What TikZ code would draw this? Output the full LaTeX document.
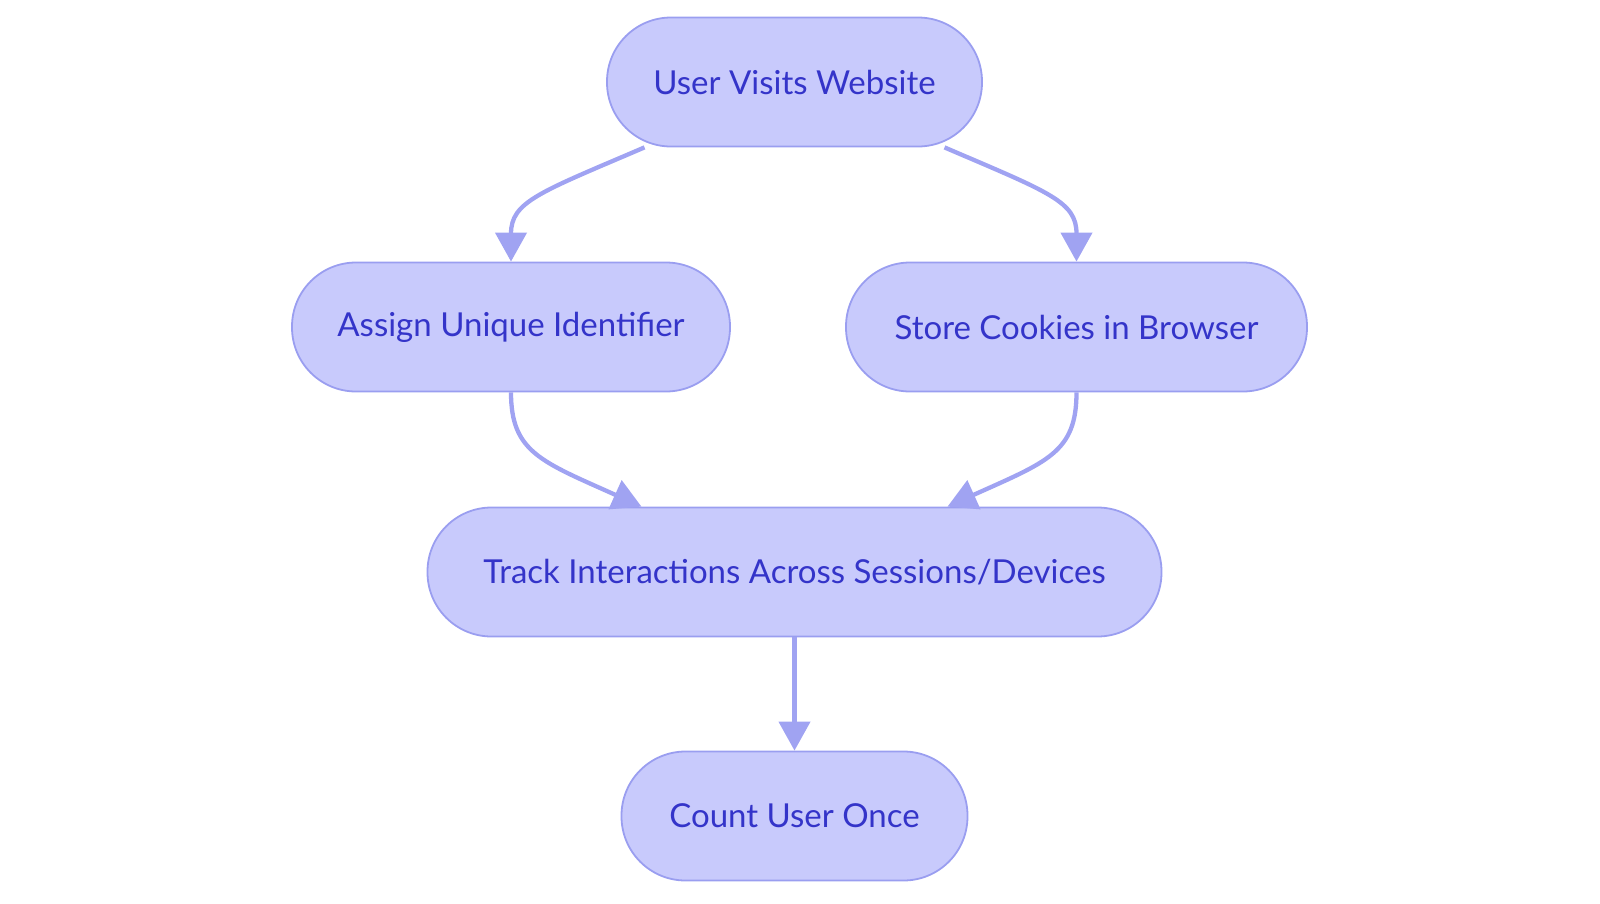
\documentclass[tikz,border=0pt]{standalone}
\usepackage{fontspec}
\setmainfont{Lato}
\usetikzlibrary{arrows.meta}
\definecolor{nodefill}{HTML}{C8CAFC}
\definecolor{nodeline}{HTML}{9A9EF0}
\definecolor{nodetext}{HTML}{3434C9}
\definecolor{edgecol}{HTML}{A0A3F2}
\tikzset{
  pill/.style={draw=nodeline, fill=nodefill, line width=1.8pt, rounded corners=64pt,
    minimum height=129pt, text=nodetext, font=\fontsize{33}{40}\selectfont, inner sep=0pt},
  flow/.style={draw=edgecol, line width=4.3pt, -{Triangle[length=29pt,width=31pt]}, edgecol}
}
\begin{document}
\begin{tikzpicture}[x=1pt,y=-1pt]
\useasboundingbox (0,0) rectangle (1600,903);
\node[pill, minimum width=375pt] (visit) at (794.5,82) {User Visits Website};
\node[pill, minimum width=438pt] (assign) at (511,327) {Assign Unique Identifier};
\node[pill, minimum width=461pt] (store) at (1076.5,327) {Store Cookies in Browser};
\node[pill, minimum width=734pt] (track) at (794.5,572) {Track Interactions Across Sessions/Devices};
\node[pill, minimum width=346pt] (count) at (794.5,816) {Count User Once};
\coordinate (v1) at ([xshift=-150pt]visit.south);
\coordinate (v2) at ([xshift=150pt]visit.south);
\coordinate (t1) at ([xshift=-153pt]track.north);
\coordinate (t2) at ([xshift=153pt]track.north);
\draw[flow] (v1) .. controls +(-105,45) and +(0,-60) .. (assign.north);
\draw[flow] (v2) .. controls +(105,45) and +(0,-60) .. (store.north);
\draw[flow] (assign.south) .. controls +(0,60) and +(-100,-45) .. (t1);
\draw[flow] (store.south) .. controls +(0,60) and +(100,-45) .. (t2);
\draw[flow] (track.south) -- (count.north);
\end{tikzpicture}
\end{document}
